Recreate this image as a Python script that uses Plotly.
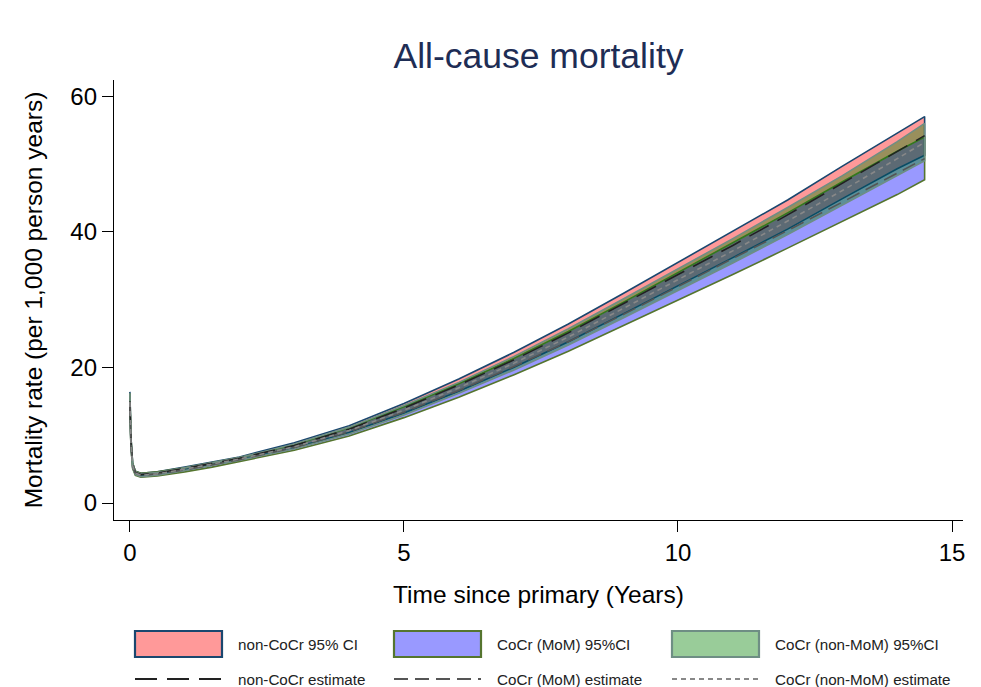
import plotly.graph_objects as go

# ---------------- data ----------------
years = [0, 0.02, 0.05, 0.1, 0.2, 0.5, 1, 1.5, 2, 3, 4, 5, 6, 7, 8, 9, 10, 11, 12, 13, 14, 14.5]

noncocr_est = [15.0, 9.0, 5.6, 4.5, 4.2, 4.4, 5.1, 5.8, 6.6, 8.5, 10.9, 14.0, 17.4, 21.1, 25.1, 29.4, 33.7, 38.0, 42.5, 47.2, 51.9, 54.2]
noncocr_lo  = [13.8, 8.4, 5.3, 4.3, 4.0, 4.2, 4.9, 5.6, 6.4, 8.1, 10.4, 13.3, 16.5, 20.0, 23.8, 27.9, 32.0, 36.2, 40.4, 44.9, 49.3, 51.3]
noncocr_hi  = [16.4, 9.6, 5.9, 4.7, 4.4, 4.6, 5.3, 6.0, 6.8, 8.9, 11.4, 14.7, 18.3, 22.2, 26.4, 30.9, 35.5, 40.0, 44.7, 49.7, 54.6, 57.0]

mom_est = [14.8, 8.9, 5.5, 4.4, 4.1, 4.3, 4.9, 5.6, 6.4, 8.2, 10.5, 13.4, 16.6, 20.1, 23.8, 27.8, 31.9, 36.0, 40.2, 44.4, 48.7, 50.8]
mom_lo  = [13.4, 8.2, 5.1, 4.1, 3.8, 4.0, 4.6, 5.3, 6.1, 7.8, 9.9, 12.6, 15.6, 18.9, 22.4, 26.1, 29.9, 33.7, 37.6, 41.5, 45.5, 47.7]
mom_hi  = [16.2, 9.6, 5.9, 4.7, 4.4, 4.6, 5.2, 5.9, 6.7, 8.6, 11.1, 14.2, 17.6, 21.3, 25.3, 29.6, 34.0, 38.4, 42.8, 47.4, 51.9, 54.0]

nonmom_est = [14.9, 8.9, 5.5, 4.4, 4.1, 4.3, 5.0, 5.7, 6.5, 8.3, 10.7, 13.7, 17.0, 20.6, 24.5, 28.7, 32.9, 37.2, 41.6, 46.1, 50.8, 53.2]
nonmom_lo  = [13.6, 8.3, 5.2, 4.2, 3.9, 4.1, 4.8, 5.5, 6.3, 8.0, 10.2, 13.0, 16.2, 19.6, 23.3, 27.3, 31.3, 35.4, 39.6, 43.9, 48.3, 50.5]
nonmom_hi  = [16.2, 9.5, 5.8, 4.6, 4.3, 4.5, 5.2, 5.9, 6.7, 8.7, 11.2, 14.4, 17.8, 21.6, 25.7, 30.1, 34.5, 39.0, 43.6, 48.3, 53.3, 56.0]

x_ticks = [0, 5, 10, 15]
y_ticks = [0, 20, 40, 60]

ci_names = ["non-CoCr 95% CI", "CoCr (MoM) 95%CI", "CoCr (non-MoM) 95%CI"]
est_names = ["non-CoCr estimate", "CoCr (MoM) estimate", "CoCr (non-MoM) estimate"]

# ---------------- styles ----------------
fills = ["rgba(255,0,0,0.4)", "rgba(0,0,255,0.4)", "rgba(0,128,0,0.4)"]
outlines = ["#1a476f", "#55752f", "#6e8e84"]
est_colors = ["#222222", "#555555", "#888888"]
est_dash = ["22px,10px", "14px,7px", "5px,4px"]
FONT = "Liberation Sans, Arial, sans-serif"

fig = go.Figure()

series = [
    (noncocr_lo, noncocr_hi, noncocr_est),
    (mom_lo, mom_hi, mom_est),
    (nonmom_lo, nonmom_hi, nonmom_est),
]

for i, (lo, hi, est) in enumerate(series):
    fig.add_trace(go.Scatter(
        x=years + years[::-1], y=hi + lo[::-1],
        fill="toself", fillcolor=fills[i],
        line=dict(color=outlines[i], width=1.6),
        mode="lines", name=ci_names[i], showlegend=False, hoverinfo="skip"))

for i, (lo, hi, est) in enumerate(series):
    fig.add_trace(go.Scatter(
        x=years, y=est, mode="lines", name=est_names[i], showlegend=False,
        line=dict(color=est_colors[i], width=1.6, dash=est_dash[i])))

# ---------------- layout ----------------
W, H = 981, 687
L, R, T, B = 106, 26, 72, 175

fig.update_layout(
    width=W, height=H,
    margin=dict(l=L, r=R, t=T, b=B),
    paper_bgcolor="white", plot_bgcolor="white",
    font=dict(family=FONT, color="black"),
    title=dict(text="All-cause mortality", x=(L + (W - R)) / 2 / W, xanchor="center",
               y=1 - 48 / H, yanchor="middle",
               font=dict(size=35.5, color="#1e2d55", family=FONT)),
    xaxis=dict(range=[-0.29, 15.2], tickvals=x_ticks, ticks="outside", ticklen=11,
               tickwidth=1.3, tickcolor="black", showline=True, linecolor="black",
               linewidth=1.3, showgrid=False, zeroline=False,
               tickfont=dict(size=24, family=FONT, color="black"),
               title=dict(text="Time since primary (Years)", standoff=20,
                          font=dict(size=24.5, family=FONT, color="black"))),
    yaxis=dict(range=[-2.5, 62.4], tickvals=y_ticks, ticks="outside", ticklen=11,
               tickwidth=1.3, tickcolor="black", showline=True, linecolor="black",
               linewidth=1.3, showgrid=False, zeroline=False,
               tickfont=dict(size=24, family=FONT, color="black"),
               title=dict(text="Mortality rate (per 1,000 person years)", standoff=20,
                          font=dict(size=24.5, family=FONT, color="black"))),
)

# ---------------- manual legend (Stata-style) ----------------
def px(xp):
    return (xp - L) / (W - L - R)

def py(yp):
    return (H - B - yp) / (H - T - B)

col_x = [127, 386, 664]
sym_w = 87
row1_y, row2_y = 636, 671
for i in range(3):
    x0 = col_x[i]
    fig.add_shape(type="rect", xref="paper", yref="paper",
                  x0=px(x0), x1=px(x0 + sym_w), y0=py(row1_y + 13), y1=py(row1_y - 13),
                  fillcolor=fills[i], line=dict(color=outlines[i], width=2.2))
    fig.add_shape(type="line", xref="paper", yref="paper",
                  x0=px(x0), x1=px(x0 + sym_w), y0=py(row2_y), y1=py(row2_y),
                  line=dict(color=est_colors[i], width=2, dash=est_dash[i]))
    fig.add_annotation(xref="paper", yref="paper", x=px(x0 + sym_w + 14), y=py(row1_y),
                       text=ci_names[i], showarrow=False, xanchor="left", yanchor="middle",
                       font=dict(size=15.2, family=FONT, color="#222222"))
    fig.add_annotation(xref="paper", yref="paper", x=px(x0 + sym_w + 14), y=py(row2_y),
                       text=est_names[i], showarrow=False, xanchor="left", yanchor="middle",
                       font=dict(size=15.2, family=FONT, color="#222222"))

fig.write_html("out.html")
